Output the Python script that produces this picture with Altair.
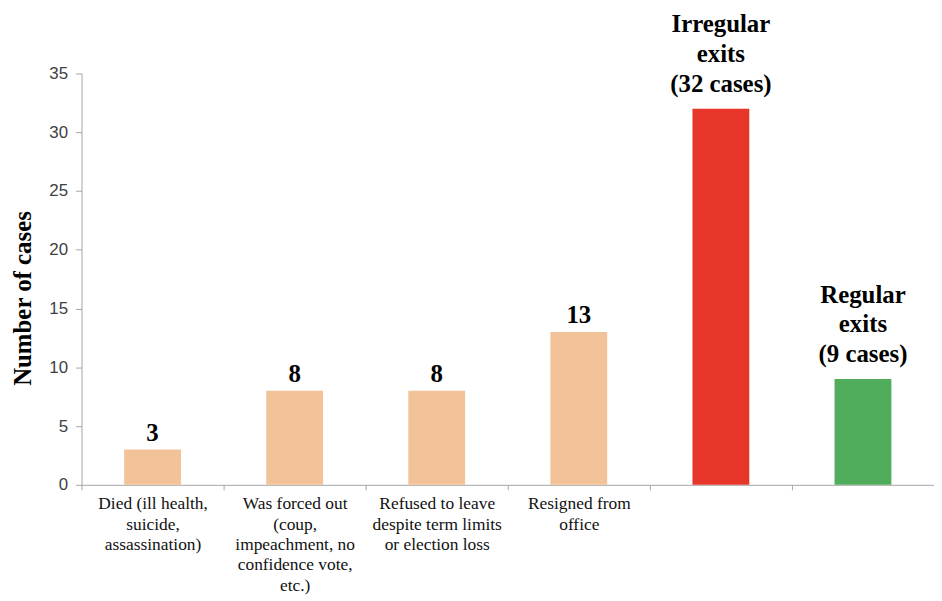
import altair as alt
import pandas as pd

categories = [
    "Died (ill health,|suicide,|assassination)",
    "Was forced out|(coup,|impeachment, no|confidence vote,|etc.)",
    "Refused to leave|despite term limits|or election loss",
    "Resigned from|office",
    "Irregular exits",
    "Regular exits",
]
values = [3, 8, 8, 13, 32, 9]
bar_labels = ["3", "8", "8", "13", "Irregular|exits|(32 cases)", "Regular|exits|(9 cases)"]
kinds = ["n", "n", "n", "n", "g", "g"]
colors = ["#F2C399", "#F2C399", "#F2C399", "#F2C399", "#E8352A", "#4FAD5B"]

df = pd.DataFrame({"cat": categories, "val": values, "lab": bar_labels, "kind": kinds})

W, H = 858, 414
step = W / 6
FONT = "Liberation Serif"

x = alt.X(
    "cat:N",
    sort=categories,
    scale=alt.Scale(paddingInner=0.6, paddingOuter=0.3),
    axis=alt.Axis(
        title=None,
        labelAngle=0,
        labelExpr="indexof(datum.value, 'exits') >= 0 ? '' : split(datum.value, '|')",
        labelFont=FONT,
        labelFontSize=17.5,
        labelLineHeight=20.5,
        labelColor="#111111",
        labelPadding=5,
        labelBaseline="top",
        tickOffset=-step / 2,
        labelOffset=step / 2,
        tickSize=5,
        labelLimit=200,
    ),
)

y = alt.Y(
    "val:Q",
    scale=alt.Scale(domain=[0, 35]),
    axis=alt.Axis(
        values=[0, 5, 10, 15, 20, 25, 30, 35],
        grid=False,
        title="Number of cases",
        titleFont=FONT,
        titleFontSize=25,
        titleFontWeight="bold",
        titleColor="#000000",
        titleX=-59,
        titleY=226,
        titleAlign="center",
        titleBaseline="middle",
        titleAngle=270,
        labelFont="Liberation Sans",
        labelFontSize=17,
        labelColor="#404040",
        labelPadding=8,
        tickSize=6,
    ),
)

bars = alt.Chart(df).mark_bar().encode(
    x=x,
    y=y,
    color=alt.Color("cat:N", scale=alt.Scale(domain=categories, range=colors), legend=None),
)

num_text = alt.Chart(df).transform_filter("datum.kind == 'n'").mark_text(
    font=FONT, fontSize=25, fontWeight="bold", baseline="bottom", dy=-4, color="#000000"
).encode(x=alt.X("cat:N", sort=categories), y="val:Q", text="lab:N")

grp_text = alt.Chart(df).transform_filter("datum.kind == 'g'").mark_text(
    font=FONT, fontSize=25, fontWeight="bold", baseline="alphabetic", dy=-77,
    lineBreak="|", lineHeight=30, color="#000000"
).encode(x=alt.X("cat:N", sort=categories), y="val:Q", text="lab:N")

chart = (
    alt.layer(bars, num_text, grp_text)
    .properties(
        width=W,
        height=H,
        autosize=alt.AutoSizeParams(type="none"),
        padding={"left": 74, "top": 64, "right": 0, "bottom": 112},
    )
    .configure_view(stroke=None)
    .configure_axis(
        tickColor="#A6A6A6",
        domainColor="#A6A6A6",
    )
)

chart.save("out.html", embed_options={"renderer": "svg", "actions": False})
